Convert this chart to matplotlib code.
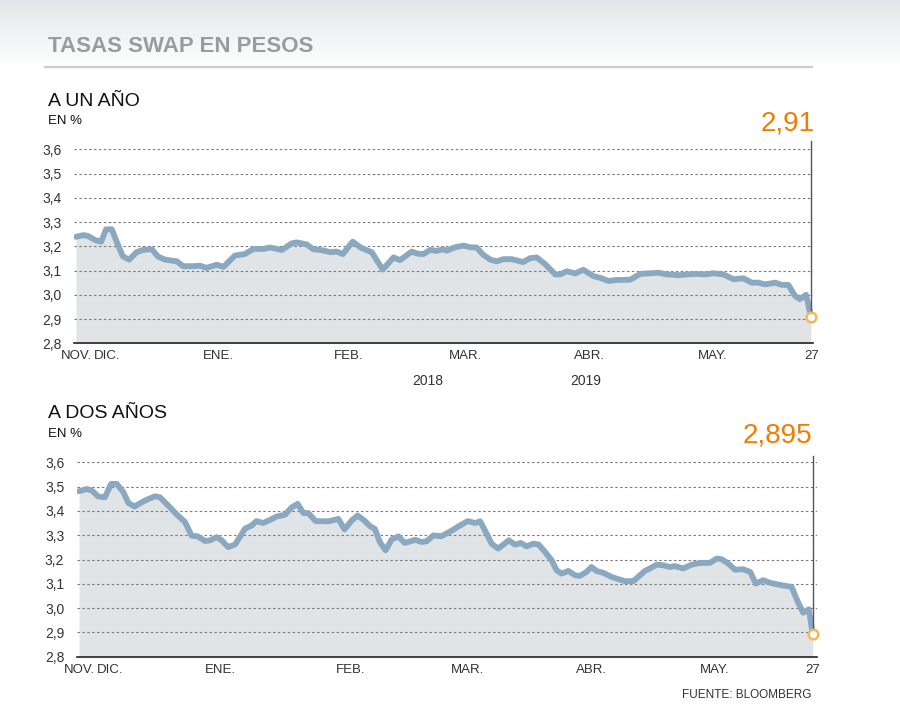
import numpy as np
import matplotlib
matplotlib.use("Agg")
import matplotlib.pyplot as plt

plt.rcParams['font.family'] = ['Liberation Sans Narrow', 'Liberation Sans', 'DejaVu Sans']

# días desde el inicio de la serie (fin de noviembre 2018) y tasas en %
dias_1a = [0, 1.8, 3.0, 4.6, 6.1, 7.3, 8.7, 10.2, 11.4, 12.9, 14.7, 16.3, 18.4, 19.9, 21.6,
           24.5, 26.0, 28.4, 30.1, 31.7, 34.2, 35.8, 38.6, 41.0, 43.1, 45.5, 47.1, 50.0,
           52.4, 53.6, 56.0, 57.6, 59.7, 61.7, 63.3, 64.8, 67.2, 69.4, 71.8, 74.5, 77.1,
           78.7, 81.5, 83.1, 84.4, 86.0, 87.6, 89.2, 90.0, 92.1, 94.1, 95.7, 97.3, 98.9,
           100.6, 102.2, 103.8, 105.8, 108.6, 110.3, 111.9, 113.9, 116.4, 117.6, 119.2,
           121.2, 123.2, 125.7, 127.3, 129.3, 131.3, 134.6, 137.0, 141.4, 143.5, 146.7,
           148.3, 150.8, 152.8, 154.8, 157.2, 159.7, 162.1, 164.1, 165.7, 167.4, 169.8,
           171.4, 173.0, 174.6, 175.8, 177.3, 178.5]
tasa_1a = [3.239, 3.246, 3.242, 3.226, 3.219, 3.270, 3.270, 3.205, 3.158, 3.145, 3.176,
           3.185, 3.188, 3.158, 3.145, 3.138, 3.118, 3.118, 3.120, 3.111, 3.124, 3.115,
           3.162, 3.168, 3.189, 3.189, 3.195, 3.185, 3.212, 3.216, 3.208, 3.188, 3.184,
           3.176, 3.178, 3.168, 3.219, 3.192, 3.176, 3.104, 3.154, 3.143, 3.178, 3.169,
           3.168, 3.185, 3.181, 3.188, 3.182, 3.196, 3.203, 3.196, 3.195, 3.165, 3.145,
           3.138, 3.147, 3.147, 3.135, 3.151, 3.154, 3.127, 3.084, 3.084, 3.097, 3.088,
           3.103, 3.077, 3.070, 3.057, 3.061, 3.062, 3.086, 3.091, 3.084, 3.081, 3.084,
           3.086, 3.084, 3.089, 3.084, 3.064, 3.068, 3.050, 3.050, 3.043, 3.050, 3.041,
           3.041, 2.996, 2.982, 3.000, 2.91]

dias_2a = [0, 1.9, 3.1, 4.7, 6.3, 7.8, 9.2, 10.8, 12.0, 13.5, 15.3, 16.9, 18.5, 19.7, 21.7,
           23.8, 25.8, 27.4, 28.9, 30.7, 31.9, 33.5, 34.7, 36.3, 38.0, 40.4, 42.0, 43.2,
           44.8, 46.5, 48.1, 50.1, 51.8, 53.2, 54.6, 55.8, 57.6, 60.7, 63.1, 64.6, 66.4,
           67.8, 69.4, 70.8, 72.0, 73.2, 74.6, 76.1, 77.7, 79.3, 81.8, 83.4, 84.6, 86.2,
           88.2, 90.6, 92.7, 94.6, 96.4, 97.6, 99.2, 100.4, 102.0, 104.6, 106.1, 107.5,
           108.9, 110.5, 111.8, 113.4, 115.0, 116.2, 117.4, 119.1, 120.7, 121.9, 123.5,
           124.7, 126.0, 127.6, 129.6, 132.8, 134.9, 137.7, 138.9, 140.6, 142.2, 143.8,
           145.0, 147.0, 149.1, 151.1, 153.5, 155.2, 156.4, 158.0, 159.6, 161.6, 163.3,
           164.7, 166.5, 168.1, 171.0, 173.4, 174.9, 176.2, 177.6, 178.5]
tasa_2a = [3.481, 3.490, 3.484, 3.459, 3.456, 3.511, 3.511, 3.477, 3.433, 3.418, 3.436,
           3.449, 3.460, 3.456, 3.422, 3.385, 3.354, 3.298, 3.295, 3.276, 3.279, 3.292,
           3.279, 3.251, 3.262, 3.327, 3.340, 3.358, 3.350, 3.363, 3.377, 3.384, 3.415,
           3.429, 3.391, 3.391, 3.358, 3.357, 3.367, 3.324, 3.361, 3.381, 3.361, 3.337,
           3.326, 3.272, 3.238, 3.283, 3.295, 3.268, 3.281, 3.272, 3.275, 3.299, 3.296,
           3.318, 3.340, 3.358, 3.350, 3.357, 3.306, 3.265, 3.245, 3.279, 3.261, 3.268,
           3.254, 3.265, 3.262, 3.231, 3.197, 3.156, 3.142, 3.153, 3.135, 3.133, 3.149,
           3.169, 3.152, 3.145, 3.128, 3.111, 3.111, 3.153, 3.163, 3.179, 3.176, 3.169,
           3.173, 3.163, 3.179, 3.186, 3.186, 3.204, 3.201, 3.183, 3.158, 3.160, 3.149,
           3.101, 3.115, 3.104, 3.094, 3.087, 3.026, 2.981, 2.995, 2.895]

meses_pos = [0, 7.6, 34.5, 66.2, 94.6, 124.8, 154.7, 178.6]
meses_lbl = ['NOV.', 'DIC.', 'ENE.', 'FEB.', 'MAR.', 'ABR.', 'MAY.', '27']
y_ticks = [2.8, 2.9, 3.0, 3.1, 3.2, 3.3, 3.4, 3.5, 3.6]

W, H = 900, 727
fig = plt.figure(figsize=(9, 7.27), dpi=100)

# degradado de la cabecera
bg = fig.add_axes([0, (H - 68) / H, 1, 68 / H])
grad = np.linspace(0, 1, 100).reshape(-1, 1)
bg.imshow(grad, aspect='auto', cmap=matplotlib.colors.LinearSegmentedColormap.from_list(
    'g', ['#e3e6e8', '#ffffff']), extent=[0, 1, 0, 1], origin='upper')
bg.axis('off')

fig.text(48 / W, 1 - 46 / H, 'TASAS SWAP EN PESOS', fontsize=16, color='#9b9b9b',
         fontweight='bold', va='center', ha='left')
fig.add_artist(plt.Line2D([45 / W, 812 / W], [1 - 67 / H, 1 - 67 / H], color='#cccccc', lw=1.6))

line_c = '#8aa8c0'
fill_c = '#e1e4e6'
orange = '#f07d00'


def panel(rect, dias, tasa, xlim, top_line, subt, subt_y, label, label_y, label_x):
    ax = fig.add_axes(rect)
    ax.fill_between(dias, tasa, 2.8, color=fill_c, lw=0, zorder=1)
    for v in y_ticks[1:]:
        ax.axhline(v, color='#7a7a7a', lw=0.8, ls=(0, (2.2, 2.2)), zorder=2)
    ax.plot(dias, tasa, color=line_c, lw=4.2, solid_joinstyle='round',
            solid_capstyle='round', zorder=3)
    ax.plot([dias[-1], dias[-1]], [tasa[-1], top_line], color='#555555', lw=1,
            clip_on=False, zorder=4)
    ax.plot(dias[-1], tasa[-1], 'o', ms=7, mfc='white', mec='#f9b655', mew=1.8,
            clip_on=False, zorder=5)
    ax.set_xlim(*xlim)
    ax.set_ylim(2.8, 3.6)
    ax.set_yticks(y_ticks)
    ax.set_yticklabels([f'{v:.1f}'.replace('.', ',') for v in y_ticks])
    ax.set_xticks(meses_pos)
    ax.set_xticklabels(meses_lbl)
    ax.tick_params(length=0, labelsize=9.5, colors='#333333')
    ax.tick_params(axis='y', labelsize=10, pad=9)
    ax.tick_params(axis='x', pad=5)
    for s in ['top', 'right', 'left']:
        ax.spines[s].set_visible(False)
    ax.spines['bottom'].set_color('#222222')
    ax.spines['bottom'].set_linewidth(1.2)
    ax.set_facecolor('none')
    fig.text(48 / W, 1 - subt_y / H, subt, fontsize=14, color='#111111', va='center')
    fig.text(48 / W, 1 - (subt_y + 20) / H, 'EN %', fontsize=9.5, color='#111111', va='center')
    fig.text(label_x / W, 1 - label_y / H, label, fontsize=20, color=orange,
             ha='right', va='center')
    return ax


panel([74 / W, (H - 343.3) / H, (813 - 74) / W, 194 / H], dias_1a, tasa_1a,
      (-0.49, 178.99), 3.634, 'A UN AÑO', 101, '2,91', 123, 815)
panel([76.7 / W, (H - 656.7) / H, (816.7 - 76.7) / W, 194.4 / H], dias_2a, tasa_2a,
      (-0.56, 179.5), 3.626, 'A DOS AÑOS', 414, '2,895', 436, 812)

fig.text(427.5 / W, 1 - 381 / H, '2018', fontsize=10, color='#333333', ha='center', va='center')
fig.text(585.5 / W, 1 - 381 / H, '2019', fontsize=10, color='#333333', ha='center', va='center')
fig.text(812 / W, 1 - 695 / H, 'FUENTE: BLOOMBERG', fontsize=8.5, color='#333333',
         ha='right', va='center')

fig.savefig('out.png', dpi=100)
